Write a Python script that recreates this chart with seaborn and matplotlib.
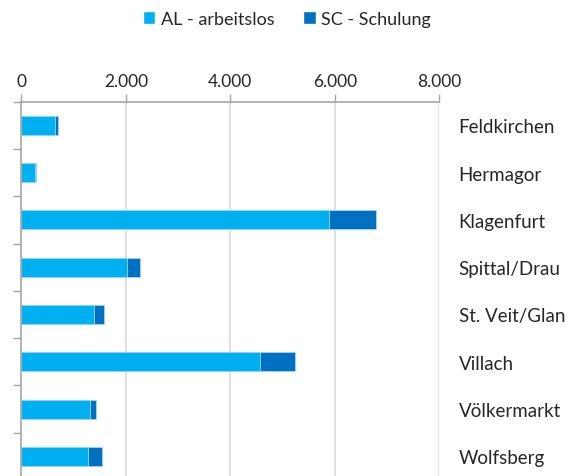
# Arbeitslose und Schulungsteilnehmer nach Bezirk (Kärnten)

import pandas as pd
import numpy as np
import matplotlib
matplotlib.use('Agg')
import matplotlib.pyplot as plt
import seaborn as sns
from matplotlib.ticker import FuncFormatter
from matplotlib.patches import Patch

# ----------------------- Daten -----------------------
bezirke = ['Feldkirchen', 'Hermagor', 'Klagenfurt', 'Spittal/Drau',
           'St. Veit/Glan', 'Villach', 'Völkermarkt', 'Wolfsberg']
al_arbeitslos = [640, 255, 5890, 2030, 1400, 4570, 1310, 1275]
sc_schulung = [55, 20, 890, 245, 175, 670, 125, 260]
serien = ['AL - arbeitslos', 'SC - Schulung']
x_ticks = [0, 2000, 4000, 6000, 8000]

df = pd.DataFrame({'Bezirk': bezirke, 'AL': al_arbeitslos, 'SC': sc_schulung})
df['Gesamt'] = df['AL'] + df['SC']

farbe_al = '#00B0F0'
farbe_sc = '#0070C0'
grau = '#A6A6A6'
text_farbe = '#262626'

sns.set_theme(style='white')
plt.rcParams['font.family'] = ['Lato', 'DejaVu Sans']

fig = plt.figure(figsize=(5.69, 4.77), dpi=100)
ax = fig.add_axes([21.3 / 569, -4 / 477, 418 / 569, 378.4 / 477])

# Gestapelte Balken: erst Gesamt (dunkel), dann AL (hell) darüber
sns.barplot(data=df, y='Bezirk', x='Gesamt', orient='h', color=farbe_sc,
            width=0.4, saturation=1, edgecolor='#9fd8f5', linewidth=0.6, ax=ax)
sns.barplot(data=df, y='Bezirk', x='AL', orient='h', color=farbe_al,
            width=0.4, saturation=1, edgecolor='#9fd8f5', linewidth=0.6, ax=ax)

ax.set_xlim(0, 8000)
ax.set_ylim(len(bezirke) - 0.5, -0.5)
ax.set_xlabel('')
ax.set_ylabel('')

# X-Achse oben
ax.xaxis.tick_top()
ax.set_xticks(x_ticks)
ax.xaxis.set_major_formatter(FuncFormatter(lambda v, p: f'{int(v):,}'.replace(',', '.')))
ax.tick_params(axis='x', which='major', direction='out', length=6, width=1,
               color=grau, pad=3, labelsize=12.5, labelcolor=text_farbe)

# Gitterlinien
for v in x_ticks[1:]:
    ax.axvline(v, color='#D9D9D9', linewidth=1.2, zorder=0)

# Y-Achse: Beschriftung rechts, Trennstriche links
ax.set_yticks(range(len(bezirke)))
ax.set_yticklabels(bezirke)
ax.tick_params(axis='y', which='major', left=False, right=False, length=0,
               labelleft=False, labelright=True, pad=14, labelsize=13.5,
               labelcolor=text_farbe)
for lab in ax.get_yticklabels():
    lab.set_horizontalalignment('left')
ax.set_yticks(np.arange(-0.5, len(bezirke), 1), minor=True)
ax.tick_params(axis='y', which='minor', left=True, right=False, length=6,
               width=1, color=grau, direction='out')

for s in ['right', 'bottom']:
    ax.spines[s].set_visible(False)
for s in ['top', 'left']:
    ax.spines[s].set_color(grau)
    ax.spines[s].set_linewidth(1.2)

# Legende
handles = [Patch(facecolor=farbe_al, label=serien[0]),
           Patch(facecolor=farbe_sc, label=serien[1])]
fig.legend(handles=handles, loc='center', bbox_to_anchor=(287 / 569, 1 - 20 / 477),
           ncol=2, frameon=False, fontsize=13, handlelength=0.7, handleheight=0.7,
           handletextpad=0.3, columnspacing=1.6, labelcolor=text_farbe)

fig.savefig('out.png', dpi=100)
